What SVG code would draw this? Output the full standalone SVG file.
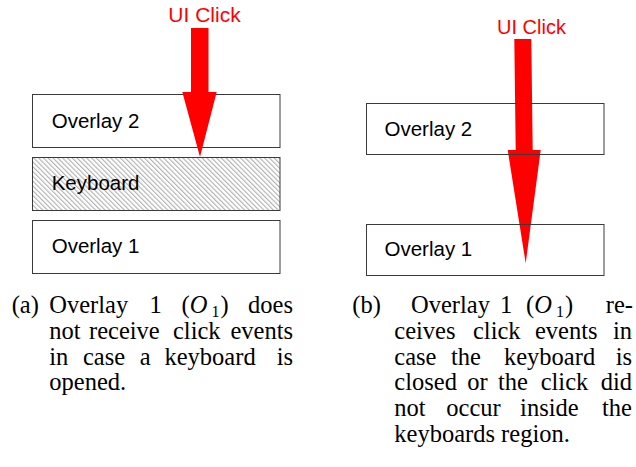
<svg xmlns="http://www.w3.org/2000/svg" width="636" height="467" viewBox="0 0 636 467">
  <style>
    .box { fill: none; stroke: #3a3a3a; stroke-width: 1; }
    .box-white { fill: #ffffff; stroke: #3a3a3a; stroke-width: 1; }
    .label { font-family: "Liberation Sans", Arial, sans-serif; font-size: 20.5px; fill: #000; }
    .click { font-family: "Liberation Sans", Arial, sans-serif; fill: #ff0000; }
    .arrow { fill: #ff0000; }
    .cap { font-family: "Liberation Serif", "Times New Roman", serif; font-size: 24.5px; fill: #000; }
    .it { font-style: italic; }
    .sub { font-size: 16px; }
  </style>
  <defs>
    <pattern id="hatch" patternUnits="userSpaceOnUse" width="3.4" height="3.4" patternTransform="rotate(-45)">
      <rect width="3.4" height="3.4" fill="#ffffff"/>
      <line x1="0.6" y1="0" x2="0.6" y2="3.4" stroke="#a8a8a8" stroke-width="1"/>
    </pattern>
  </defs>

  <!-- left panel: keyboard open -->
  <g id="a-overlay2">
    <rect class="box-white" x="32.5" y="94.5" width="247.5" height="53"/>
    <text class="label" x="51.7" y="127.5">Overlay 2</text>
  </g>
  <g id="a-keyboard">
    <rect x="32.5" y="157.5" width="247.5" height="53" fill="url(#hatch)" stroke="#3a3a3a" stroke-width="1"/>
    <text class="label" x="51.7" y="189.5">Keyboard</text>
  </g>
  <g id="a-overlay1">
    <rect class="box-white" x="32.5" y="220.5" width="247.5" height="53"/>
    <text class="label" x="51.7" y="252.5">Overlay 1</text>
  </g>

  <!-- right panel: keyboard closed; arrow sits under the box outlines -->
  <g id="b-connectors-under">
    <polygon class="arrow" points="514.3,39 531.3,39 532.7,150 540.7,150 525.7,263.3 507.7,150 515.7,150"/>
  </g>
  <g id="b-overlay2">
    <rect class="box" x="366.5" y="103.5" width="237.5" height="51"/>
    <text class="label" x="384.5" y="136">Overlay 2</text>
  </g>
  <g id="b-overlay1">
    <rect class="box" x="366.5" y="224.5" width="237.5" height="51"/>
    <text class="label" x="384.5" y="256">Overlay 1</text>
  </g>

  <!-- click arrows -->
  <g id="connectors">
    <polygon class="arrow" points="191,28 208.5,28 208.5,92 216.7,92 200,157 182.3,92 191,92"/>
    <text class="click" x="168.3" y="21.7" font-size="21">UI Click</text>
    <text class="click" x="497" y="34.3" font-size="20">UI Click</text>
  </g>

  <!-- sub-captions -->
  <g id="caption-a" class="cap">
    <text y="313"><tspan x="11.7">(a)</tspan><tspan x="49.3">Overlay</tspan><tspan x="149.5">1</tspan><tspan x="181.5">(</tspan><tspan class="it">O</tspan></text>
    <text y="313"><tspan class="sub" x="211.5" dy="4">1</tspan><tspan x="220.5" dy="-4">)</tspan></text>
    <text y="313" x="293" text-anchor="end">does</text>
    <text y="338.8"><tspan x="49.3">not</tspan><tspan x="89">receive</tspan><tspan x="173">click</tspan></text>
    <text y="338.8" x="293" text-anchor="end">events</text>
    <text y="364.6"><tspan x="49.3">in</tspan><tspan x="82.9">case</tspan><tspan x="139.8">a</tspan><tspan x="164.5">keyboard</tspan></text>
    <text y="364.6" x="293" text-anchor="end">is</text>
    <text y="390.4" x="49.3">opened.</text>
  </g>
  <g id="caption-b" class="cap">
    <text y="313"><tspan x="352.3">(b)</tspan><tspan x="411">Overlay</tspan><tspan x="500">1</tspan><tspan x="526">(</tspan><tspan class="it">O</tspan></text>
    <text y="313"><tspan class="sub" x="556" dy="4">1</tspan><tspan x="565" dy="-4">)</tspan></text>
    <text y="313" x="633" text-anchor="end">re-</text>
    <text y="338.8"><tspan x="394.3">ceives</tspan><tspan x="473">click</tspan><tspan x="535">events</tspan></text>
    <text y="338.8" x="632" text-anchor="end">in</text>
    <text y="364.6"><tspan x="394.3">case</tspan><tspan x="451">the</tspan><tspan x="504">keyboard</tspan></text>
    <text y="364.6" x="632" text-anchor="end">is</text>
    <text y="390.4"><tspan x="394.3">closed</tspan><tspan x="467.2">or</tspan><tspan x="497.9">the</tspan><tspan x="540.7">click</tspan></text>
    <text y="390.4" x="632" text-anchor="end">did</text>
    <text y="416.2"><tspan x="394.3">not</tspan><tspan x="446.3">occur</tspan><tspan x="520.1">inside</tspan></text>
    <text y="416.2" x="632" text-anchor="end">the</text>
    <text y="442" x="394.3">keyboards region.</text>
  </g>
</svg>
